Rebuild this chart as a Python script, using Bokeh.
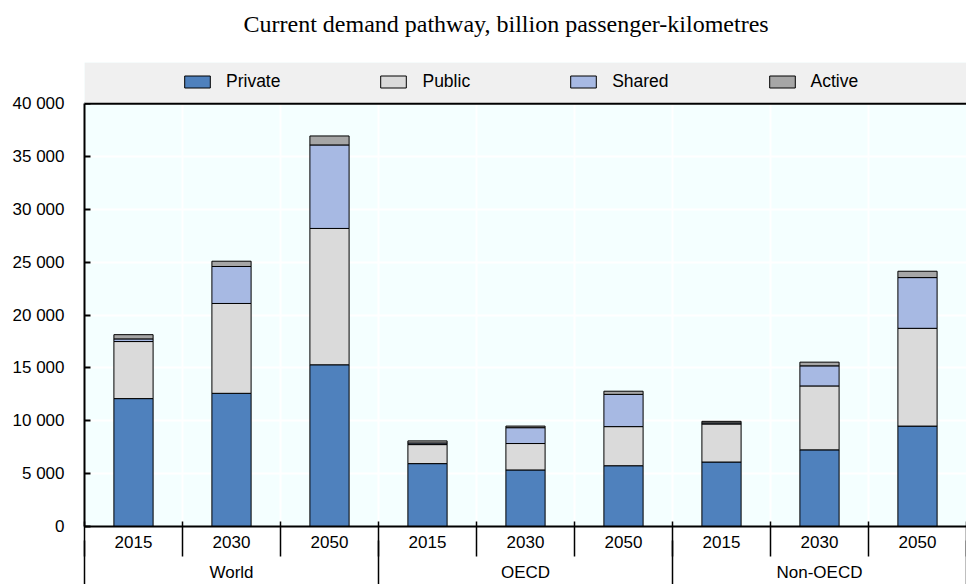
from bokeh.plotting import figure
from bokeh.models import (Range1d, FixedTicker, LinearAxis, BoxAnnotation, Span,
                          ColumnDataSource, Grid, Title)
from bokeh.embed import file_html
from bokeh.resources import INLINE

# ---------------- data ----------------
groups = ["World", "OECD", "Non-OECD"]
years = ["2015", "2030", "2050"]
series = ["Private", "Public", "Shared", "Active"]
private = [12100, 12600, 15300, 5950, 5350, 5750, 6100, 7250, 9500]
public = [5400, 8500, 12900, 1800, 2500, 3700, 3600, 6050, 9250]
shared = [250, 3500, 7900, 150, 1500, 3050, 100, 1900, 4800]
active = [400, 500, 850, 200, 150, 300, 150, 350, 600]
y_ticks = list(range(0, 40001, 5000))
title_text = "Current demand pathway, billion passenger-kilometres"

colors = ["#4F81BD", "#DADADA", "#A7B9E3", "#A6A6A6"]
FONT = "Liberation Sans"

n_cat = len(groups) * len(years)
x_pos = [i + 0.5 for i in range(n_cat)]
year_labels = [y for g in groups for y in years]

src = ColumnDataSource(dict(x=x_pos, Private=private, Public=public,
                            Shared=shared, Active=active))

y_top = y_ticks[-1]
band = 0.0975 * y_top  # legend band above the plot area

p = figure(width=966, height=584, output_backend="svg", toolbar_location=None,
           x_range=Range1d(0, n_cat), y_range=Range1d(0, y_top + band),
           min_border_left=84, min_border_right=0, min_border_top=62,
           min_border_bottom=0,
           x_axis_type=None, y_axis_type=None)

# spacer between plot frame and title
p.add_layout(Title(text=" ", text_font_size="1px", standoff=21), "above")

p.title.text = title_text
p.title.align = "left"
p.title.offset = 159
p.title.vertical_align = "top"
p.title.text_font = "Liberation Serif"
p.title.text_font_size = "24px"
p.title.text_font_style = "normal"
p.title.text_color = "black"
p.title.standoff = 0

p.background_fill_color = "#F4FFFF"
p.border_fill_color = "white"
p.outline_line_color = None

# y axis
yax = LinearAxis(ticker=FixedTicker(ticks=y_ticks, minor_ticks=[]),
                 bounds=(0, y_top))
yax.major_label_overrides = {t: f"{t:,}".replace(",", " ") for t in y_ticks}
yax.major_tick_in = 6
yax.major_tick_out = 0
yax.major_tick_line_width = 2
yax.axis_line_width = 2
yax.major_label_standoff = 20
yax.major_label_text_font = FONT
yax.major_label_text_font_size = "17px"
yax.major_label_text_color = "black"
p.add_layout(yax, "left")

# year axis (inner categories)
xax = LinearAxis(ticker=FixedTicker(ticks=x_pos, minor_ticks=list(range(n_cat + 1))))
xax.major_label_overrides = {x: lab for x, lab in zip(x_pos, year_labels)}
xax.major_tick_line_color = None
xax.major_tick_in = 0
xax.major_tick_out = 0
xax.minor_tick_in = 5
xax.minor_tick_out = 30
xax.minor_tick_line_width = 1.5
xax.axis_line_width = 2
xax.major_label_standoff = -21
xax.major_label_text_font = FONT
xax.major_label_text_font_size = "17px"
xax.major_label_text_color = "black"
p.add_layout(xax, "below")

# group axis (outer categories)
g_pos = [len(years) * k + len(years) / 2 for k in range(len(groups))]
g_bounds = [len(years) * k for k in range(len(groups) + 1)]
gax = LinearAxis(ticker=FixedTicker(ticks=g_pos, minor_ticks=g_bounds))
gax.major_label_overrides = {x: lab for x, lab in zip(g_pos, groups)}
gax.axis_line_color = None
gax.major_tick_line_color = None
gax.major_tick_in = 0
gax.major_tick_out = 0
gax.minor_tick_in = 10
gax.minor_tick_out = 40
gax.minor_tick_line_width = 1.5
gax.major_label_standoff = -28
gax.major_label_text_font = FONT
gax.major_label_text_font_size = "17px"
gax.major_label_text_color = "black"
p.add_layout(gax, "below")

# grids
xg = Grid(dimension=0, ticker=FixedTicker(ticks=list(range(n_cat + 1))),
          grid_line_color="white", grid_line_width=2)
yg = Grid(dimension=1, ticker=FixedTicker(ticks=y_ticks),
          grid_line_color="white", grid_line_width=2)
p.add_layout(xg)
p.add_layout(yg)

# legend band + top rule
p.add_layout(BoxAnnotation(bottom=y_top, fill_color="#F0F0F0", fill_alpha=1,
                           line_color=None))
p.add_layout(Span(location=y_top, dimension="width", line_color="black",
                  line_width=2))

p.vbar_stack(series, x="x", width=0.4, source=src, color=colors,
             line_color="black", line_width=1, legend_label=series)

lg = p.legend[0]
lg.orientation = "horizontal"
lg.location = (97, 434)
lg.background_fill_alpha = 0
lg.border_line_color = None
lg.padding = 0
lg.margin = 0
lg.spacing = 97
lg.glyph_width = 32
lg.glyph_height = 15
lg.label_standoff = 13
lg.label_text_font = FONT
lg.label_text_font_size = "17.5px"
lg.label_text_color = "black"

open("out.html", "w").write(file_html(p, INLINE))
